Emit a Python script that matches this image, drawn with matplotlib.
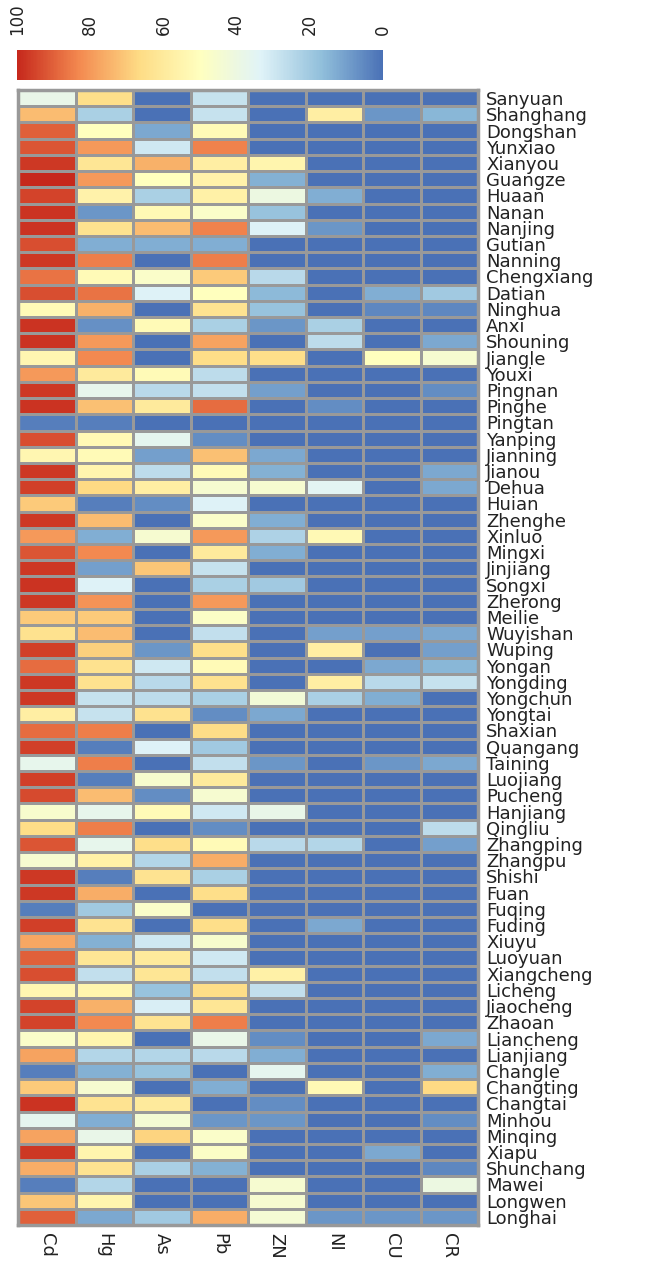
import numpy as np
import matplotlib; matplotlib.use("Agg")
import matplotlib.pyplot as plt
from matplotlib.colors import LinearSegmentedColormap, Normalize
from matplotlib.cm import ScalarMappable

# --- data (0-100 scaled index per site and element) ---
sites = ["Sanyuan", "Shanghang", "Dongshan", "Yunxiao", "Xianyou", "Guangze", "Huaan", "Nanan",
         "Nanjing", "Gutian", "Nanning", "Chengxiang", "Datian", "Ninghua", "Anxi", "Shouning",
         "Jiangle", "Youxi", "Pingnan", "Pinghe", "Pingtan", "Yanping", "Jianning", "Jianou",
         "Dehua", "Huian", "Zhenghe", "Xinluo", "Mingxi", "Jinjiang", "Songxi", "Zherong",
         "Meilie", "Wuyishan", "Wuping", "Yongan", "Yongding", "Yongchun", "Yongtai", "Shaxian",
         "Quangang", "Taining", "Luojiang", "Pucheng", "Hanjiang", "Qingliu", "Zhangping",
         "Zhangpu", "Shishi", "Fuan", "Fuqing", "Fuding", "Xiuyu", "Luoyuan", "Xiangcheng",
         "Licheng", "Jiaocheng", "Zhaoan", "Liancheng", "Lianjiang", "Changle", "Changting",
         "Changtai", "Minhou", "Minqing", "Xiapu", "Shunchang", "Mawei", "Longwen", "Longhai"]
elements = ["Cd", "Hg", "As", "Pb", "ZN", "NI", "CU", "CR"]

cd = [38, 73, 90, 92, 97, 100, 95, 98, 98, 93, 97, 87, 93, 52, 98, 98, 54, 80, 97, 98, 3, 93, 54,
      97, 96, 70, 97, 80, 92, 97, 98, 97, 70, 64, 96, 88, 97, 97, 58, 88, 96, 37, 96, 94, 46, 66,
      92, 45, 97, 97, 3, 96, 77, 90, 93, 54, 95, 95, 47, 78, 3, 70, 98, 36, 78, 97, 76, 3, 71, 90]
hg = [65, 22, 50, 80, 62, 80, 56, 8, 64, 13, 85, 52, 87, 75, 7, 80, 83, 60, 37, 72, 3, 53, 52,
      55, 67, 3, 73, 13, 83, 10, 33, 81, 70, 73, 69, 64, 64, 28, 28, 85, 3, 85, 3, 73, 37, 85,
      37, 57, 3, 76, 20, 63, 14, 62, 27, 55, 75, 83, 55, 24, 14, 45, 63, 13, 38, 55, 63, 24, 55, 12]
as_ = [0, 0, 12, 30, 75, 50, 22, 53, 73, 13, 0, 47, 33, 0, 52, 0, 0, 52, 25, 60, 0, 36, 10,
       26, 58, 6, 0, 45, 0, 71, 0, 0, 0, 0, 8, 30, 25, 26, 64, 0, 33, 0, 46, 6, 52, 0,
       65, 24, 63, 0, 47, 0, 30, 60, 62, 18, 32, 63, 0, 24, 18, 0, 60, 44, 68, 0, 22, 0, 0, 20]
pb = [28, 28, 52, 84, 58, 56, 57, 47, 84, 13, 85, 70, 50, 63, 22, 78, 66, 26, 27, 88, 0, 6, 72,
      52, 45, 33, 47, 80, 60, 28, 22, 80, 48, 27, 65, 52, 64, 22, 6, 66, 20, 27, 60, 45, 30, 6,
      52, 76, 22, 65, 0, 65, 46, 30, 27, 66, 62, 85, 38, 25, 0, 13, 0, 8, 47, 48, 14, 0, 0, 76]
zn = [0, 0, 0, 0, 55, 14, 40, 18, 33, 0, 0, 25, 16, 18, 8, 0, 65, 0, 10, 0, 0, 0, 12,
      14, 45, 0, 13, 23, 13, 0, 20, 0, 0, 0, 0, 0, 0, 43, 12, 0, 0, 8, 0, 0, 38, 0,
      25, 0, 0, 0, 0, 0, 0, 0, 57, 27, 0, 0, 6, 13, 36, 0, 6, 8, 0, 0, 0, 45, 45, 44]
ni = [0, 58, 0, 0, 0, 0, 13, 0, 8, 0, 0, 0, 0, 0, 22, 26, 0, 0, 0, 6, 0, 0, 0,
      0, 35, 0, 0, 53, 0, 0, 0, 0, 0, 10, 58, 0, 58, 22, 0, 0, 0, 0, 0, 0, 0, 0,
      24, 0, 0, 0, 0, 12, 0, 0, 0, 0, 0, 0, 0, 0, 0, 53, 0, 0, 0, 0, 0, 0, 0, 8]
cu = [0, 8, 0, 0, 0, 0, 0, 0, 0, 0, 0, 0, 13, 5, 0, 0, 50, 0, 0, 0, 0, 0, 0,
      0, 0, 0, 0, 0, 0, 0, 0, 0, 0, 10, 0, 12, 25, 13, 0, 0, 0, 8, 0, 0, 0, 0,
      0, 0, 0, 0, 0, 0, 0, 0, 0, 0, 0, 0, 0, 0, 0, 0, 0, 0, 0, 12, 0, 0, 0, 8]
cr = [0, 15, 0, 0, 0, 0, 0, 0, 0, 0, 0, 0, 20, 5, 0, 12, 45, 0, 6, 0, 0, 0, 0,
      12, 12, 0, 0, 0, 0, 0, 0, 0, 0, 12, 10, 15, 28, 0, 0, 0, 0, 12, 0, 0, 0, 26,
      10, 0, 0, 0, 0, 0, 0, 0, 0, 0, 0, 0, 12, 0, 13, 67, 0, 6, 0, 0, 5, 40, 0, 8]

cbar_ticks = [100, 80, 60, 40, 20, 0]

Z = np.array([cd, hg, as_, pb, zn, ni, cu, cr], dtype=float).T

# pheatmap-like RdYlBu ramp
cmap = LinearSegmentedColormap.from_list(
    "rdylbu", ["#4a71b6", "#91bfdb", "#e0f3f8", "#ffffbf", "#fedc85", "#f3884f", "#c6281c"])
norm = Normalize(0, 100)

W, H = 651, 1269
fig = plt.figure(figsize=(W / 100, H / 100), dpi=100)
plt.rcParams["font.family"] = ["DejaVu Sans"]

# --- heatmap ---
ax = fig.add_axes([18 / W, 1 - 1225 / H, 460 / W, 1135 / H])
ax.pcolormesh(np.arange(len(elements) + 1), np.arange(len(sites) + 1), Z, cmap=cmap, norm=norm,
              edgecolors="#999999", linewidth=1.8)
ax.set_xlim(0, len(elements))
ax.set_ylim(len(sites), 0)
for s in ax.spines.values():
    s.set_color("#999999")
    s.set_linewidth(2.5)

ax.yaxis.tick_right()
ax.set_yticks(np.arange(len(sites)) + 0.5)
ax.set_yticklabels(sites, fontsize=13, color="#222222")
ax.set_xticks(np.arange(len(elements)) + 0.5)
ax.set_xticklabels(elements, rotation=270, fontsize=13, color="#222222", va="top")
ax.tick_params(length=0, pad=6)

# --- colour key (100 on the left, 0 on the right) ---
cax = fig.add_axes([17 / W, 1 - 80 / H, 366 / W, 30 / H])
sm = ScalarMappable(norm=norm, cmap=cmap)
cb = fig.colorbar(sm, cax=cax, orientation="horizontal")
cax.invert_xaxis()
cb.outline.set_visible(False)
cb.set_ticks(cbar_ticks)
cax.xaxis.set_ticks_position("top")
cax.tick_params(length=0, pad=11, labelsize=12, labelcolor="#222222")
for lab in cax.get_xticklabels():
    lab.set_rotation(90)

fig.savefig("out.png", dpi=100, facecolor="white")
